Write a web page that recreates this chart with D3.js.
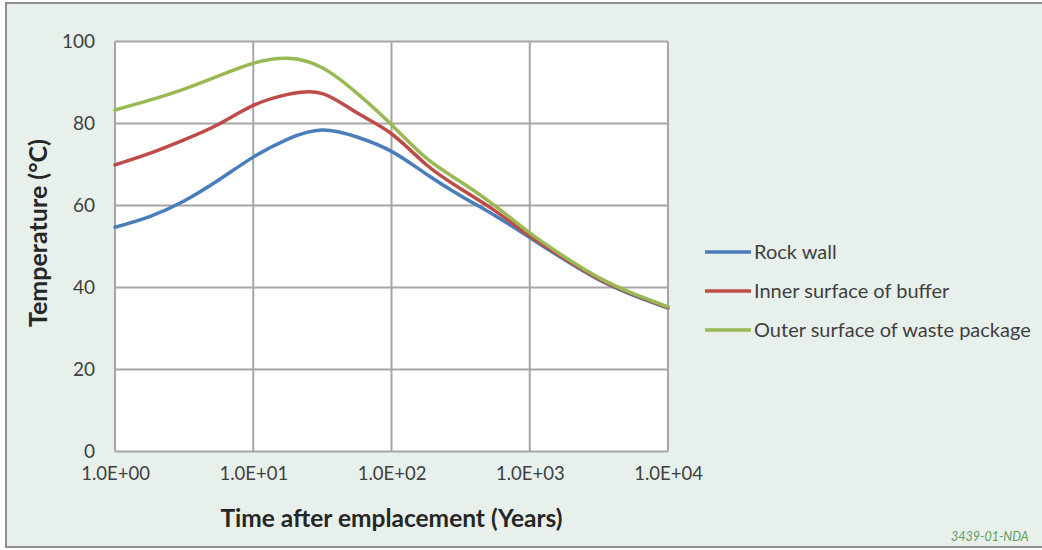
<!DOCTYPE html>
<html>
<head>
<meta charset="utf-8">
<script src="https://cdn.jsdelivr.net/npm/d3@7"></script>
<style>
  html, body { margin: 0; padding: 0; background: #ffffff; }
  svg { display: block; }
</style>
</head>
<body>
<svg id="chart" width="1042" height="550"></svg>
<script>
// Time after emplacement (years), quarter-decade steps
const years = [1, 1.78, 3.16, 5.62, 10, 17.8, 31.6, 56.2, 100, 178, 316, 562, 1000, 1780, 3160, 5620, 10000];

// Temperatures (°C)
const rockWall    = [54.7, 57.3, 61.1, 66.2, 71.8, 76.2, 78.4, 76.7, 73.2, 67.7, 62.4, 57.5, 52.2, 46.8, 41.9, 38.1, 35.0];
const bufferInner = [69.9, 72.7, 76.0, 79.8, 84.4, 87.1, 87.3, 82.6, 77.5, 70.0, 64.1, 58.7, 52.6, 47.1, 42.1, 38.3, 35.1];
const wasteOuter  = [83.3, 85.7, 88.4, 91.6, 94.7, 95.9, 93.6, 87.4, 79.7, 71.6, 65.8, 59.9, 53.3, 47.5, 42.4, 38.5, 35.3];

const seriesNames = ["Rock wall", "Inner surface of buffer", "Outer surface of waste package"];
const seriesColors = ["#4a7ebb", "#be4b48", "#98b954"];

const xTicks = [1, 10, 100, 1000, 10000];
const xTickLabels = ["1.0E+00", "1.0E+01", "1.0E+02", "1.0E+03", "1.0E+04"];
const yTicks = [0, 20, 40, 60, 80, 100];

const xTitle = "Time after emplacement (Years)";
const yTitle = "Temperature (°C)";
const stamp = "3439-01-NDA";

const font = "Lato, 'Open Sans', sans-serif";
const svg = d3.select("#chart");

// chart frame
svg.append("rect").attr("x", 6).attr("y", 3).attr("width", 1042).attr("height", 544)
  .attr("fill", "#e8f0ec").attr("stroke", "#8f8f8f").attr("stroke-width", 2);

const plot = { left: 115, right: 668, top: 41.5, bottom: 451.5 };

const x = d3.scaleLog().domain([1, 10000]).range([plot.left, plot.right]);
const y = d3.scaleLinear().domain([0, 100]).range([plot.bottom, plot.top]);

// plot area
svg.append("rect")
  .attr("x", plot.left).attr("y", plot.top)
  .attr("width", plot.right - plot.left).attr("height", plot.bottom - plot.top)
  .attr("fill", "#ffffff");

// gridlines
const grid = svg.append("g").attr("stroke", "#a6a6a6").attr("stroke-width", 2);
grid.selectAll("line.h").data(yTicks).join("line")
  .attr("x1", plot.left).attr("x2", plot.right)
  .attr("y1", d => y(d)).attr("y2", d => y(d));
grid.selectAll("line.v").data(xTicks).join("line")
  .attr("x1", d => x(d)).attr("x2", d => x(d))
  .attr("y1", plot.top).attr("y2", plot.bottom);

// y axis labels
const yAxis = d3.axisLeft(y).tickValues(yTicks).tickSize(0).tickPadding(20);
svg.append("g").attr("transform", `translate(${plot.left},0)`).call(yAxis)
  .call(g => g.select(".domain").remove())
  .call(g => g.selectAll("text").attr("font-family", font).attr("font-size", 19).attr("fill", "#404040"));

// x axis labels
const xAxis = d3.axisBottom(x).tickValues(xTicks)
  .tickFormat((d, i) => xTickLabels[i]).tickSize(0).tickPadding(15);
svg.append("g").attr("transform", `translate(0,${plot.bottom})`).call(xAxis)
  .call(g => g.select(".domain").remove())
  .call(g => g.selectAll("text").attr("font-family", font).attr("font-size", 18.5).attr("fill", "#404040"));

// axis titles
svg.append("text").attr("x", (plot.left + plot.right) / 2).attr("y", 527)
  .attr("text-anchor", "middle").attr("font-family", font).attr("font-weight", "bold")
  .attr("font-size", 24.5).attr("fill", "#262626").text(xTitle);
svg.append("text").attr("transform", "translate(47,233) rotate(-90)")
  .attr("text-anchor", "middle").attr("font-family", font).attr("font-weight", "bold")
  .attr("font-size", 25).attr("fill", "#262626").text(yTitle);

// series lines
const allSeries = [rockWall, bufferInner, wasteOuter];
const line = d3.line()
  .x((d, i) => x(years[i]))
  .y(d => y(d))
  .curve(d3.curveNatural);

svg.append("g").selectAll("path").data(allSeries).join("path")
  .attr("d", d => line(d))
  .attr("fill", "none")
  .attr("stroke", (d, i) => seriesColors[i])
  .attr("stroke-width", 3.5)
  .attr("stroke-linejoin", "round")
  .attr("stroke-linecap", "round");

// legend
const legend = svg.append("g").attr("transform", "translate(705,252)");
const item = legend.selectAll("g").data(seriesNames).join("g")
  .attr("transform", (d, i) => `translate(0,${i * 39})`);
item.append("line").attr("x1", 0).attr("x2", 46).attr("y1", 0).attr("y2", 0)
  .attr("stroke", (d, i) => seriesColors[i]).attr("stroke-width", 3.5);
item.append("text").attr("x", 49).attr("y", 0).attr("dy", "0.35em")
  .attr("font-family", font).attr("font-size", 20).attr("fill", "#404040")
  .text(d => d);

// reference stamp
svg.append("text").attr("x", 951).attr("y", 541)
  .attr("font-family", font).attr("font-style", "italic").attr("font-size", 12.5)
  .attr("fill", "#5f9e60").text(stamp);
</script>
</body>
</html>
